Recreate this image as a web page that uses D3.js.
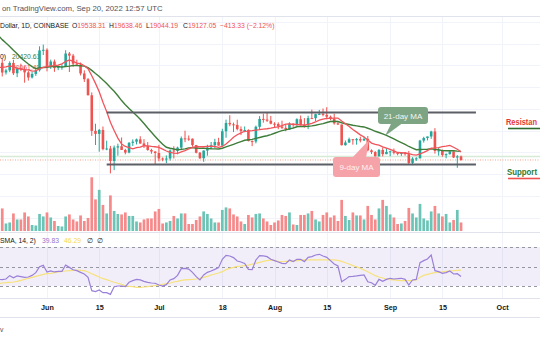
<!DOCTYPE html>
<html><head><meta charset="utf-8">
<script src="https://cdn.jsdelivr.net/npm/d3@7"></script>
<style>
html,body{margin:0;padding:0;background:#fff;overflow:hidden}
svg{display:block;font-family:"Liberation Sans",Arial,sans-serif}
</style></head><body>
<svg id="c" width="540" height="340"></svg>
<script>
// ---------- DATA (daily candles from 2022-05-19 to 2022-09-20) ----------
const firstDay = [2022, 4, 19];
const opens = [28700,30300,29190,29430,30290,29100,29650,29540,29200,28620,29020,29450,31730,
31800,29800,30450,29700,29860,29900,31370,31130,30200,30110,29080,28420,26570,22480,22130,22580,20380,20450,19010,20560,20710,20280,19980,21100,21230,21500,21030,20730,20280,20100,
19930,19300,19240,19300,20220,20180,20550,21620,21590,21580,20850,19960,19330,20210,20570,20830,21190,20780,22430,23390,23230,23160,22680,22450,22580,21310,21250,22950,23850,23780,
23640,23300,23270,22980,22820,22620,23310,23170,23820,23160,23150,23950,23940,24400,24440,24310,24100,23860,23340,23210,20830,21140,21520,21400,21530,21370,21560,20240,20040,19550,20280,19800,
20050,20130,19950,19830,19990,19800,18790,19290,19320,21360,21650,21830,22400,20170,20230,19700,19800,20110,19420,19538.31];
const highs = [30550,30750,29620,30480,30650,29850,30200,29870,29380,29240,29550,32200,32400,
31970,30670,30680,29950,30150,31750,31550,31330,30660,30340,29440,28560,26900,23300,22700,22980,21350,20750,20800,21000,21720,20410,21190,21500,21590,21860,21520,21190,20420,20140,
20870,19420,19650,20340,20710,20660,21830,22500,21950,21600,20860,20050,20240,20880,21200,21570,21680,22720,23770,24280,23430,23760,22990,22990,22660,21380,23080,24180,24450,24650,
24200,23470,23460,23650,23220,23460,23350,23920,24240,23950,24220,24920,24440,24890,25050,25200,24240,24450,23620,23210,21370,21700,21520,21660,21810,21820,21890,20350,20150,20400,20570,20490,
20200,20450,19970,20000,20050,20170,19450,19450,21450,21800,21830,22490,22790,20540,20330,19890,20190,20110,19690,19638.46];
const lows = [28670,28730,28950,29230,28900,28660,29340,28020,28260,28500,28800,29300,31200,
29320,29600,29270,29460,29500,29880,29250,29850,30000,28850,28100,26560,21900,20850,20080,20240,20250,17590,17960,19630,20350,19780,19900,20740,20920,20990,20510,20190,19850,18630,
18980,18980,18760,19060,19300,19780,20260,21180,21330,20650,19890,19240,18920,19620,20390,20490,20770,20770,21690,23010,22340,22530,21990,22310,21260,20720,21040,22600,23420,23500,
23230,22860,22670,22680,22440,22600,22940,22990,23080,22860,22680,23870,23600,24300,24150,23800,23700,23190,23150,20800,20780,21080,20890,20890,21150,21310,20120,19810,19540,19530,19540,19790,
19560,19770,19660,19600,19630,18650,18540,19020,19300,21130,21380,21560,19860,19620,19500,19320,19750,19360,18230,19044.19];
const closes = [30300,29190,29430,30290,29100,29650,29540,29200,28620,29020,29450,31730,31800,
29800,30450,29700,29860,29900,31370,31130,30200,30110,29080,28420,26570,22480,22130,22580,20380,20450,19010,20560,20710,20280,19980,21100,21230,21500,21030,20730,20280,20100,19930,
19300,19240,19300,20220,20180,20550,21620,21590,21580,20850,19960,19330,20210,20570,20830,21190,20780,22430,23390,23230,23160,22680,22450,22580,21310,21250,22950,23850,23780,23640,
23300,23270,22980,22820,22620,23310,23170,23820,23160,23150,23950,23940,24400,24440,24310,24100,23860,23340,23210,20830,21140,21520,21400,21530,21370,21560,20240,20040,19550,20280,19800,20050,
20130,19950,19830,19990,19800,18790,19290,19320,21360,21650,21830,22400,20170,20230,19700,19800,20110,19420,19540,19127.05];
const volumes = [40,45,15,17,35,23,23,37,29,12,11,34,29,
37,27,20,10,9,29,33,23,19,31,20,26,107,63,82,52,35,71,40,34,33,37,30,30,19,17,23,25,25,39,
44,15,17,20,30,25,35,35,14,14,22,29,39,34,25,17,17,42,47,45,33,29,19,14,32,27,34,35,25,19,
12,17,21,32,30,37,13,12,32,32,35,40,23,19,32,37,27,31,20,62,30,22,37,31,31,23,50,32,23,45,62,50,
33,27,14,15,20,46,35,27,54,25,21,39,50,35,29,34,17,22,42,17];
const ma9 = [29770,29790,29840,29950,29840,29660,29620,29490,29480,29340,29370,29620,29790,
29870,29960,29970,30050,30190,30450,30640,30470,30280,30200,29970,29630,28810,27940,26970,25770,24690,23460,22510,21650,20950,20680,20560,20410,20540,20600,20790,20760,20690,20650,
20580,20370,20160,20010,19920,19900,20050,20210,20400,20570,20650,20650,20650,20700,20730,20680,20590,20680,20970,21330,21750,22030,22240,22430,22450,22500,22560,22610,22670,22720,
22790,22880,22930,23090,23250,23290,23210,23210,23160,23150,23220,23330,23500,23710,23820,23920,23920,23940,23950,23600,23290,22970,22630,22330,22020,21770,21420,21070,20930,20830,20640,20490,
20340,20180,19990,19960,19930,19850,19740,19680,19830,20000,20210,20490,20510,20560,20660,20720,20810,20590,20360,20060];
const ma21 = [33410,32970,32570,32190,31740,31350,30870,30520,30170,29860,29640,29720,29760,
29800,29870,29890,29880,29810,29880,29920,29990,29980,29970,29920,29750,29430,29070,28740,28320,27930,27460,27030,26510,25960,25490,25050,24640,24250,23820,23320,22800,22320,21840,
21370,20930,20590,20480,20390,20290,20350,20400,20520,20540,20500,20460,20470,20440,20420,20410,20400,20480,20630,20780,20930,21090,21240,21400,21450,21500,21620,21720,21830,21920,
22040,22200,22370,22500,22590,22710,22810,22950,22990,22980,23010,23050,23130,23220,23310,23440,23560,23580,23550,23410,23290,23210,23120,23050,22980,22930,22780,22630,22430,22290,22130,21950,
21770,21550,21340,21130,20920,20680,20490,20310,20330,20350,20370,20420,20350,20300,20210,20190,20190,20190,20150,20120];
const rsi = [36.8,36.5,37.2,40.6,38.5,40.3,39.6,38.9,39.2,40.9,43.7,49.8,51.2,
44.4,45.4,44.4,45.0,45.0,51.5,49.1,46.7,45.7,44.0,42.3,38.9,25.2,24.2,25.9,23.2,23.2,21.4,29.3,30.0,30.0,29.3,33.8,35.5,36.8,36.2,34.8,33.8,33.1,32.8,
31.0,30.0,31.4,36.2,37.5,40.9,47.8,48.1,47.4,44.0,39.6,36.2,41.3,44.0,45.4,47.1,48.8,57.4,61.5,60.8,59.1,55.6,54.6,53.2,47.1,46.8,56.7,61.1,60.8,60.1,
57.4,56.0,54.6,53.2,52.9,56.7,55.0,57.4,57.4,55.0,59.4,60.1,61.8,62.5,60.8,59.4,56.0,52.6,50.5,34.4,36.8,39.6,39.9,40.3,40.9,41.3,34.4,33.4,30.7,36.8,34.8,36.8,
37.9,37.2,37.5,37.9,36.8,31.0,36.2,36.8,53.9,56.0,57.7,61.8,45.7,44.7,43.0,43.7,45.4,42.3,42.6,39.83];
const rsiSma = [32.4,33.1,33.4,33.8,34.1,34.8,35.8,36.8,37.9,38.9,39.9,40.9,42.0,
42.6,43.0,43.7,44.4,45.0,45.4,45.7,46.1,46.4,46.1,45.7,44.4,42.6,40.9,39.2,37.5,36.5,35.1,33.8,32.8,31.7,30.3,29.7,29.3,28.6,28.6,29.0,29.3,30.0,30.3,
31.0,31.7,32.4,33.1,34.1,34.8,35.8,36.2,36.5,36.8,37.2,37.9,38.9,39.9,41.3,42.3,43.3,44.7,46.8,48.1,49.1,50.2,50.5,50.9,51.5,52.4,53.2,54.3,55.3,56.0,
56.7,56.0,55.3,54.9,55.3,55.6,55.6,56.0,56.3,56.7,56.7,56.7,56.7,56.7,56.7,56.7,56.7,56.7,56.3,55.3,53.9,52.6,50.9,49.8,48.1,46.4,44.7,42.6,40.6,39.2,38.2,37.2,
36.5,36.2,35.8,35.5,35.5,35.5,35.8,36.2,38.9,40.9,42.0,43.0,43.7,44.0,44.4,45.0,45.4,45.7,46.1,46.29];
const tickDates = ["2022-06-01","2022-06-15","2022-07-01","2022-07-18","2022-08-01","2022-08-15","2022-09-01","2022-09-15","2022-10-01"];
const tickLabels = ["Jun","15","Jul","18","Aug","15","Sep","15","Oct"];
const priceGrid = [12500,15000,17500,20000,22500,25000,27500,30000,32500,35000];
const rsiLevels = [70,50,30];
const resistance = 24590, support = 18610;
const lineStart = "2022-06-17", lineEnd = "2022-09-24";
const prevClose = 19540, lastClose = 19127.05;

// ---------- SCALES ----------
const parse = d3.utcParse("%Y-%m-%d");
const dates = closes.map((c,i)=> new Date(Date.UTC(firstDay[0], firstDay[1], firstDay[2]+i)));
const x = d3.scaleUtc().domain([parse("2022-06-01"), parse("2022-10-01")]).range([47, 502.06]);
const y = d3.scaleLinear().domain([19127, 30627]).range([160, 60]);
const yv = d3.scaleLinear().domain([0, 110]).range([231, 175.8]);
const yr = d3.scaleLinear().domain([30, 70]).range([286, 247]);

const UP = "#26a69a", DOWN = "#ef5350";
const FS = 6.8;
const svg = d3.select("#c");
const defs = svg.append("defs");
defs.append("clipPath").attr("id","main").append("rect").attr("x",0).attr("y",17).attr("width",540).attr("height",215);
defs.append("clipPath").attr("id","rsip").append("rect").attr("x",0).attr("y",233).attr("width",540).attr("height",65);

// header
svg.append("text").attr("x",2).attr("y",11).attr("font-size",7.8).attr("fill","#50535e")
  .text("on TradingView.com, Sep 20, 2022 12:57 UTC");
svg.append("line").attr("x1",0).attr("x2",540).attr("y1",16.5).attr("y2",16.5).attr("stroke","#e0e3eb");

// grids
const grid = svg.append("g");
grid.selectAll("line.v").data(tickDates).join("line").attr("class","v")
  .attr("x1",d=>Math.round(x(parse(d)))+0.5).attr("x2",d=>Math.round(x(parse(d)))+0.5)
  .attr("y1",17).attr("y2",298).attr("stroke","#f0f3fa");
grid.append("g").attr("clip-path","url(#main)").selectAll("line").data(priceGrid).join("line")
  .attr("x1",0).attr("x2",540).attr("y1",d=>Math.round(y(d))+0.5).attr("y2",d=>Math.round(y(d))+0.5)
  .attr("stroke","#f0f3fa");

// legend text (behind candles)
const lg = svg.append("g").attr("font-size",FS);
lg.append("text").attr("x",0).attr("y",28).attr("fill","#131722").text("Dollar, 1D, COINBASE");
const ohlc = [["O","19538.31",72],["H","19638.46",109],["L","19044.19",146],["C","19127.05",183]];
ohlc.forEach(([k,v,px])=>{
  const t = lg.append("text").attr("x",px).attr("y",28).attr("fill","#131722");
  t.append("tspan").text(k);
  t.append("tspan").attr("fill",DOWN).text(v);
});
lg.append("text").attr("x",220).attr("y",28).attr("fill",DOWN).text("\u2212413.33 (\u22122.12%)");
lg.append("text").attr("x",0).attr("y",59).attr("fill","#131722").text("0)");
lg.append("text").attr("x",12).attr("y",59).attr("fill","#3d7a3a").text("20420.61");
lg.append("text").attr("x",12).attr("y",70).attr("fill","#f05a5a").text("20061.49");

const main = svg.append("g").attr("clip-path","url(#main)");

// volume
main.selectAll("rect.vol").data(volumes).join("rect").attr("class","vol")
  .attr("x",(d,i)=>x(dates[i])-1.35).attr("width",2.7)
  .attr("y",d=>yv(d)).attr("height",d=>yv(0)-yv(d))
  .attr("fill",(d,i)=>closes[i]>=opens[i]?"#6cc4b6":"#f6898a");

// price lines
main.append("line").attr("x1",0).attr("x2",540).attr("y1",y(prevClose)).attr("y2",y(prevClose))
  .attr("stroke","#d5ebd7").attr("stroke-width",1.5);
main.append("line").attr("x1",0).attr("x2",540).attr("y1",y(lastClose)).attr("y2",y(lastClose))
  .attr("stroke","#f2a48e").attr("stroke-width",1).attr("stroke-dasharray","1,1.5");

// candles
const cg = main.append("g");
cg.selectAll("rect.w").data(closes).join("rect").attr("class","w")
  .attr("x",(d,i)=>x(dates[i])-0.5).attr("width",1)
  .attr("y",(d,i)=>y(highs[i])).attr("height",(d,i)=>y(lows[i])-y(highs[i]))
  .attr("fill",(d,i)=>closes[i]>=opens[i]?UP:DOWN);
cg.selectAll("rect.b").data(closes).join("rect").attr("class","b")
  .attr("x",(d,i)=>x(dates[i])-1.3).attr("width",2.6)
  .attr("y",(d,i)=>y(Math.max(opens[i],closes[i])))
  .attr("height",(d,i)=>Math.max(1,Math.abs(y(opens[i])-y(closes[i]))))
  .attr("fill",(d,i)=>closes[i]>=opens[i]?UP:DOWN);

// moving averages
const lineMain = arr => d3.line().x((d,i)=>x(dates[i])).y(d=>y(d))(arr);
main.append("path").attr("d",lineMain(ma21)).attr("fill","none").attr("stroke","#3f7d3a").attr("stroke-width",1.4);
main.append("path").attr("d",lineMain(ma9)).attr("fill","none").attr("stroke","#f2545b").attr("stroke-width",1.3);

// resistance / support
[resistance, support].forEach(v=>{
  main.append("line").attr("x1",x(parse(lineStart))).attr("x2",x(parse(lineEnd)))
    .attr("y1",y(v)).attr("y2",y(v)).attr("stroke","#5d5f66").attr("stroke-width",1.8);
});

// callouts
const c21 = main.append("g");
c21.append("path").attr("d","M392,122 L385,136 L404,122 Z").attr("fill","#7da584");
c21.append("rect").attr("x",378).attr("y",107).attr("width",50).attr("height",17).attr("rx",3).attr("fill","#7da584");
c21.append("text").attr("x",403).attr("y",118.5).attr("text-anchor","middle").attr("font-size",8).attr("fill","#f2f5f2").text("21-day MA");
const c9 = main.append("g");
c9.append("path").attr("d","M352,158 L369,140 L366,158 Z").attr("fill","#f5a3a8");
c9.append("rect").attr("x",333).attr("y",157).attr("width",47).attr("height",20).attr("rx",3).attr("fill","#f5a3a8");
c9.append("text").attr("x",356.5).attr("y",170).attr("text-anchor","middle").attr("font-size",8).attr("fill","#fdf0f0").text("9-day MA");

// side labels
svg.append("text").attr("x",506).attr("y",125).attr("font-size",8.2).attr("font-weight","bold").attr("fill","#e53935")
  .attr("textLength",31).attr("lengthAdjust","spacingAndGlyphs").text("Resistan");
svg.append("line").attr("x1",508).attr("x2",540).attr("y1",128.5).attr("y2",128.5).attr("stroke","#2f6b2f").attr("stroke-width",1.6);
svg.append("text").attr("x",507).attr("y",175).attr("font-size",8.2).attr("font-weight","bold").attr("fill","#2f7a2f")
  .attr("textLength",30).attr("lengthAdjust","spacingAndGlyphs").text("Support");
svg.append("line").attr("x1",508).attr("x2",540).attr("y1",178.5).attr("y2",178.5).attr("stroke","#f05050").attr("stroke-width",1.6);

// pane separator
svg.append("line").attr("x1",0).attr("x2",540).attr("y1",232.5).attr("y2",232.5).attr("stroke","#e0e3eb");

// RSI pane
const rp = svg.append("g").attr("clip-path","url(#rsip)");
rp.append("rect").attr("x",0).attr("width",540).attr("y",yr(70)).attr("height",yr(30)-yr(70)).attr("fill","#7e57c2").attr("fill-opacity",0.1);
rp.selectAll("line.lv").data(rsiLevels).join("line").attr("class","lv")
  .attr("x1",0).attr("x2",540).attr("y1",d=>Math.round(yr(d))+0.5).attr("y2",d=>Math.round(yr(d))+0.5)
  .attr("stroke","#9598a1").attr("stroke-dasharray","3,3");
const lineR = arr => d3.line().x((d,i)=>x(dates[i])).y(d=>yr(d))(arr);
rp.append("path").attr("d",lineR(rsiSma)).attr("fill","none").attr("stroke","#f7e27b").attr("stroke-width",1.2);
rp.append("path").attr("d",lineR(rsi)).attr("fill","none").attr("stroke","#9a80d8").attr("stroke-width",1.2);

const rl = svg.append("g").attr("font-size",FS);
rl.append("text").attr("x",0).attr("y",243).attr("fill","#131722").text("SMA, 14, 2)");
rl.append("text").attr("x",42).attr("y",243).attr("fill","#9575cd").text("39.83");
rl.append("text").attr("x",64).attr("y",243).attr("fill","#f5d94e").text("46.29");
rl.append("text").attr("x",87).attr("y",243).attr("fill","#131722").text("\u2205");
rl.append("text").attr("x",97).attr("y",243).attr("fill","#131722").text("\u2205");

// time axis
svg.append("line").attr("x1",0).attr("x2",540).attr("y1",298.5).attr("y2",298.5).attr("stroke","#e0e3eb");
const ax = d3.axisBottom(x).tickValues(tickDates.map(parse))
  .tickFormat((d,i)=>tickLabels[i]).tickSize(0).tickPadding(0);
const axg = svg.append("g").attr("transform","translate(0,305)").call(ax);
axg.select(".domain").remove();
axg.selectAll("text").attr("font-size",7.2).attr("font-weight","bold").attr("fill","#131722")
  .attr("font-family","'Liberation Sans',Arial,sans-serif");
svg.append("line").attr("x1",0).attr("x2",540).attr("y1",317.5).attr("y2",317.5).attr("stroke","#e0e3eb");
svg.append("text").attr("x",0).attr("y",332).attr("font-size",FS).attr("fill","#50535e").text("v");
</script>
</body></html>
